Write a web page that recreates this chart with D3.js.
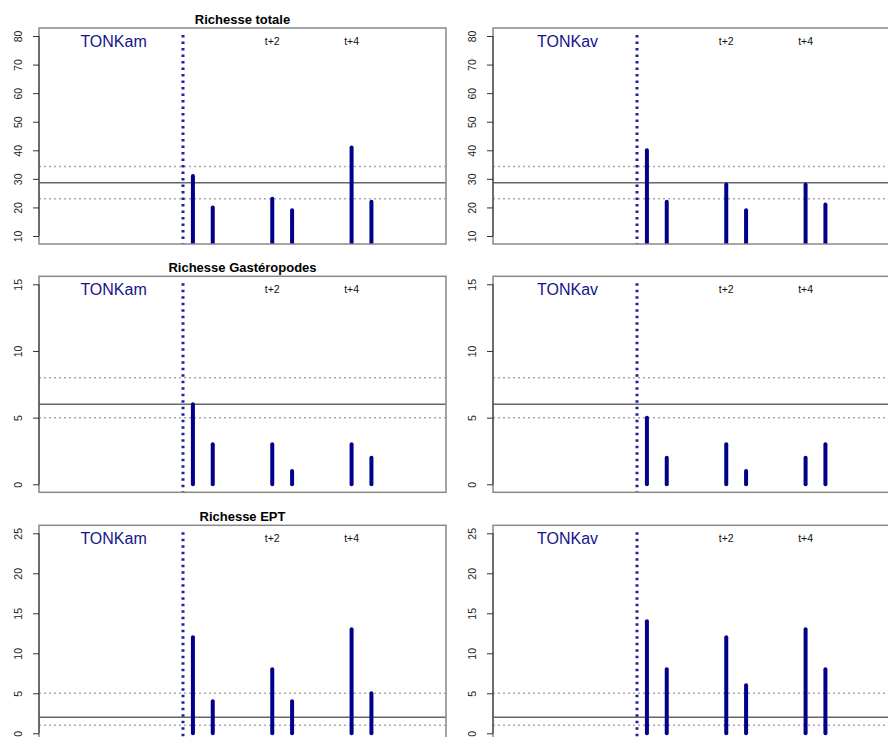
<!DOCTYPE html>
<html>
<head>
<meta charset="utf-8">
<script src="https://cdn.jsdelivr.net/npm/d3@7"></script>
<style>
  html, body { margin: 0; padding: 0; background: #fff; }
  svg { display: block; }
</style>
</head>
<body>
<script>
// ---- data ----
const sites = ["TONKam", "TONKav"];
const metricTitles = ["Richesse totale", "Richesse Gastéropodes", "Richesse EPT"];
const barX = [1, 2, 5, 6, 9, 10];
const periodLabels = ["t+2", "t+4"];
const periodLabelX = [5, 9];
const interventionX = 0.5;
const siteLabelX = -3;

// values per metric, per site (TONKam, TONKav)
const totalAm = [31, 20, 23, 19, 41, 22];
const totalAv = [40, 22, 28, 19, 28, 21];
const gastAm = [6, 3, 3, 1, 3, 2];
const gastAv = [5, 2, 3, 1, 2, 3];
const eptAm = [12, 4, 8, 4, 13, 5];
const eptAv = [14, 8, 12, 6, 13, 8];

// reference lines: mean, lower, upper
const refTotal = [28.6, 23.0, 34.3];
const refGast = [6, 5, 8];
const refEpt = [2, 1, 5];

// y limits and ticks
const yLimTotal = [10, 80];
const yLimGast = [0, 15];
const yLimEpt = [0, 25];
const ticksTotal = [10, 20, 30, 40, 50, 60, 70, 80];
const ticksGast = [0, 5, 10, 15];
const ticksEpt = [0, 5, 10, 15, 20, 25];

const xLim = [-6, 13];

const rows = [
  { title: metricTitles[0], vals: [totalAm, totalAv], ref: refTotal, ylim: yLimTotal, ticks: ticksTotal },
  { title: metricTitles[1], vals: [gastAm, gastAv], ref: refGast, ylim: yLimGast, ticks: ticksGast },
  { title: metricTitles[2], vals: [eptAm, eptAv], ref: refEpt, ylim: yLimEpt, ticks: ticksEpt }
];

// ---- layout ----
const W = 888, H = 737;
const colLeft = [39, 493];
const plotW = 407;
const rowTop = [28, 276.3, 525.3];
const plotH = 216;

const barColor = "#00008B";
const font = "'Liberation Sans', Arial, Helvetica, sans-serif";

const svg = d3.select("body").append("svg")
  .attr("width", W).attr("height", H)
  .attr("font-family", font);

function ext(lim) {
  const d = (lim[1] - lim[0]) * 0.04;
  return [lim[0] - d, lim[1] + d];
}

rows.forEach((row, ri) => {
  sites.forEach((site, ci) => {
    const x0 = colLeft[ci], y0 = rowTop[ri];
    const x = d3.scaleLinear().domain(ext(xLim)).range([x0, x0 + plotW]);
    const y = d3.scaleLinear().domain(ext(row.ylim)).range([y0 + plotH, y0]);

    const clipId = `clip-${ri}-${ci}`;
    svg.append("clipPath").attr("id", clipId)
      .append("rect").attr("x", x0).attr("y", y0).attr("width", plotW).attr("height", plotH);

    const g = svg.append("g");
    const inner = g.append("g").attr("clip-path", `url(#${clipId})`);

    // reference lines
    inner.append("line")
      .attr("x1", x0).attr("x2", x0 + plotW)
      .attr("y1", y(row.ref[0])).attr("y2", y(row.ref[0]))
      .attr("stroke", "#666").attr("stroke-width", 1.5);
    [row.ref[1], row.ref[2]].forEach(v => {
      inner.append("line")
        .attr("x1", x0).attr("x2", x0 + plotW)
        .attr("y1", y(v)).attr("y2", y(v))
        .attr("stroke", "#aaa").attr("stroke-width", 1.5)
        .attr("stroke-dasharray", "2,3");
    });

    // intervention dashed line
    inner.append("line")
      .attr("x1", x(interventionX)).attr("x2", x(interventionX))
      .attr("y1", y(row.ylim[1]) - 1).attr("y2", y0 + plotH + 10)
      .attr("stroke", "#1f1fa0").attr("stroke-width", 3)
      .attr("stroke-dasharray", "2.5,4");

    // bars (type = "h")
    inner.selectAll("line.bar")
      .data(row.vals[ci])
      .enter().append("line")
      .attr("class", "bar")
      .attr("x1", (d, i) => x(barX[i])).attr("x2", (d, i) => x(barX[i]))
      .attr("y1", y(Math.min(0, row.ylim[0])) ).attr("y2", d => y(d))
      .attr("stroke", barColor).attr("stroke-width", 4)
      .attr("stroke-linecap", "round");

    // site label
    g.append("text")
      .attr("x", x(siteLabelX)).attr("y", y0 + 18.5)
      .attr("text-anchor", "middle")
      .attr("font-size", 16)
      .attr("fill", "#14148c")
      .text(site);

    // period labels
    periodLabels.forEach((lab, i) => {
      g.append("text")
        .attr("x", x(periodLabelX[i])).attr("y", y0 + 17)
        .attr("text-anchor", "middle")
        .attr("font-size", 10.5)
        .attr("fill", "#111")
        .text(lab);
    });

    // box
    g.append("rect")
      .attr("x", x0).attr("y", y0).attr("width", plotW).attr("height", plotH)
      .attr("fill", "none").attr("stroke", "#888").attr("stroke-width", 1.5);

    // y axis
    const axis = d3.axisLeft(y).tickValues(row.ticks).tickSize(6).tickPadding(0).tickFormat(d3.format("d"));
    const ag = g.append("g").attr("transform", `translate(${x0},0)`).call(axis);
    ag.select(".domain").remove();
    ag.append("line")
      .attr("x1", 0).attr("x2", 0)
      .attr("y1", y(row.ticks[0])).attr("y2", y(row.ticks[row.ticks.length - 1]))
      .attr("stroke", "#333").attr("stroke-width", 1);
    ag.selectAll(".tick line").attr("stroke", "#333");
    ag.selectAll(".tick text")
      .attr("x", null).attr("dy", null)
      .attr("transform", "translate(-17,0) rotate(-90)")
      .attr("text-anchor", "middle")
      .attr("font-size", 10.5)
      .attr("font-family", font)
      .attr("fill", "#222");

    // title only on left column
    if (ci === 0) {
      g.append("text")
        .attr("x", x0 + plotW / 2).attr("y", y0 - 4)
        .attr("text-anchor", "middle")
        .attr("font-size", 13)
        .attr("font-weight", "bold")
        .attr("fill", "#000")
        .text(row.title);
    }
  });
});
</script>
</body>
</html>
